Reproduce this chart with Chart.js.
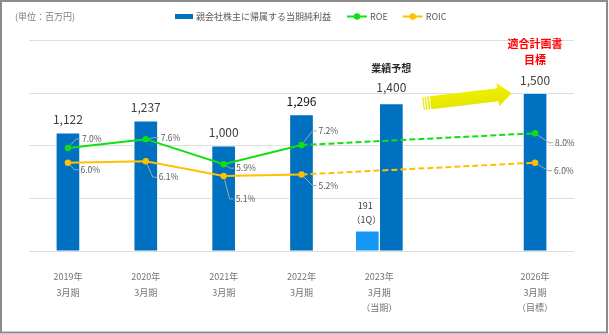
<!DOCTYPE html>
<html lang="ja">
<head>
<meta charset="utf-8">
<title>親会社株主に帰属する当期純利益・ROE・ROIC</title>
<script src="https://cdn.jsdelivr.net/npm/chart.js@4/dist/chart.umd.min.js"></script>
<style>
  html, body { margin: 0; padding: 0; background: #ffffff; }
  #wrap { width: 609px; height: 334px; }
  canvas { display: block; }
</style>
</head>
<body>
<div id="wrap"><canvas id="chart" width="609" height="334"></canvas></div>
<script>
// ---- data ----
const periods = [
  ['2019年', '3月期'],
  ['2020年', '3月期'],
  ['2021年', '3月期'],
  ['2022年', '3月期'],
  ['2023年', '3月期', '（当期）'],
  '',
  ['2026年', '3月期', '（目標）']
];
const netIncome = [1122, 1237, 1000, 1296, 1400, null, 1500];   // 百万円
const firstQuarterIncome = [null, null, null, null, 191, null, null];
const roe  = [7.0, 7.6, 5.9, 7.2, null, null, 8.0];            // %
const roic = [6.0, 6.1, 5.1, 5.2, null, null, 6.0];            // %
const incomeTicks = [0, 500, 1000, 1500, 2000];

const lastActualIndex = 3;   // 2022年3月期: last actual result, dashed afterwards
const forecastIndex = 4;     // 2023年3月期 forecast
const targetIndex = 6;       // 2026年3月期 target

// ---- styling ----
const FONT = '"Noto Sans CJK JP", "Noto Sans", sans-serif';
const BLUE = '#0070c0';
const LIGHT_BLUE = '#1597f5';
const GREEN = '#10e010';
const GOLD = '#ffc000';
const TEXT = '#595959';

// label placement for the percentage call-outs (offset of label from its point)
const pctLabelOffsets = {
  roe:  [[14, -9], [15, -1.5], [12.5, 4], [17, -14], null, null, [20, 9.5]],
  roic: [[12.5, 7], [13, 16], [12, 23], [17, 11], null, null, [19, 8]]
};

const DS_ROE = 0, DS_ROIC = 1, DS_Q1 = 2, DS_INCOME = 3;

// white page, unit note, legend and outer frame
const pageDecor = {
  id: 'pageDecor',
  beforeDraw(chart) {
    const { ctx, width, height } = chart;
    ctx.save();
    ctx.fillStyle = '#ffffff';
    ctx.fillRect(0, 0, width, height);
    ctx.restore();
  },
  afterDraw(chart) {
    const { ctx, width, height } = chart;
    const ds = chart.data.datasets;
    ctx.save();
    ctx.textBaseline = 'middle';
    ctx.textAlign = 'left';

    ctx.font = `9px ${FONT}`;
    ctx.fillStyle = '#7f7f7f';
    ctx.fillText('(単位：百万円)', 15, 16.5);

    // legend row
    const ly = 16.5;
    let x = 175;
    ctx.fillStyle = ds[DS_INCOME].backgroundColor;
    ctx.fillRect(x, ly - 2.5, 18, 5);
    x += 21;
    ctx.fillStyle = TEXT;
    ctx.fillText(ds[DS_INCOME].label, x, ly);
    x += ctx.measureText(ds[DS_INCOME].label).width + 16;
    [DS_ROE, DS_ROIC].forEach((idx) => {
      const d = ds[idx];
      ctx.strokeStyle = d.borderColor;
      ctx.lineWidth = 2;
      ctx.beginPath();
      ctx.moveTo(x, ly);
      ctx.lineTo(x + 20, ly);
      ctx.stroke();
      ctx.fillStyle = d.borderColor;
      ctx.beginPath();
      ctx.arc(x + 10, ly, 3.2, 0, Math.PI * 2);
      ctx.fill();
      x += 23;
      ctx.fillStyle = TEXT;
      ctx.fillText(d.label, x, ly);
      x += ctx.measureText(d.label).width + 15;
    });

    // frame
    ctx.strokeStyle = '#8c8c8c';
    ctx.lineWidth = 2;
    ctx.strokeRect(1, 1, width - 3, height - 2.5);
    ctx.restore();
  }
};

function drawArrow(ctx, x0, y0, x1, y1) {
  const ang = Math.atan2(y1 - y0, x1 - x0);
  const len = Math.hypot(x1 - x0, y1 - y0);
  const shaft = 6.5, head = 11.5, headLen = 14;
  ctx.save();
  ctx.translate(x0, y0);
  ctx.rotate(ang);
  const grad = ctx.createLinearGradient(0, -head, 0, head);
  grad.addColorStop(0, '#f2f200');
  grad.addColorStop(1, '#e2e200');
  ctx.fillStyle = grad;
  // striped tail
  ctx.fillRect(0, -shaft, 1.2, shaft * 2);
  ctx.fillRect(2.4, -shaft, 1.4, shaft * 2);
  ctx.fillRect(5, -shaft, 1.6, shaft * 2);
  ctx.beginPath();
  ctx.moveTo(7.8, -shaft);
  ctx.lineTo(len - headLen, -shaft);
  ctx.lineTo(len - headLen, -head);
  ctx.lineTo(len, 0);
  ctx.lineTo(len - headLen, head);
  ctx.lineTo(len - headLen, shaft);
  ctx.lineTo(7.8, shaft);
  ctx.closePath();
  ctx.fill();
  ctx.restore();
}

// value labels, percentage call-outs and headings
const annotations = {
  id: 'annotations',
  afterDatasetsDraw(chart) {
    const { ctx } = chart;
    const xs = chart.scales.x, ys = chart.scales.y;
    ctx.save();
    ctx.textAlign = 'center';
    ctx.textBaseline = 'middle';

    // net income values above the bars
    const incMeta = chart.getDatasetMeta(DS_INCOME);
    netIncome.forEach((v, i) => {
      if (v == null) return;
      const bar = incMeta.data[i];
      ctx.font = `12px ${FONT}`;
      ctx.fillStyle = i === lastActualIndex ? '#111111' : '#404040';
      ctx.fillText(v.toLocaleString('en-US'), bar.x, bar.y - (i === forecastIndex ? 16 : 13));
    });

    // first-quarter bar label
    const qMeta = chart.getDatasetMeta(DS_Q1);
    firstQuarterIncome.forEach((v, i) => {
      if (v == null) return;
      const bar = qMeta.data[i];
      ctx.font = `9px ${FONT}`;
      ctx.fillStyle = '#404040';
      ctx.fillText(v.toLocaleString('en-US'), bar.x - 2, bar.y - 25);
      ctx.fillText('（1Q）', bar.x - 1, bar.y - 11);
    });

    // percentage labels with leader lines
    ctx.textAlign = 'left';
    ctx.font = `8.5px ${FONT}`;
    [[DS_ROE, roe, pctLabelOffsets.roe], [DS_ROIC, roic, pctLabelOffsets.roic]].forEach(([idx, values, offs]) => {
      const meta = chart.getDatasetMeta(idx);
      values.forEach((v, i) => {
        if (v == null || !offs[i]) return;
        const pt = meta.data[i];
        const lx = pt.x + offs[i][0], ly = pt.y + offs[i][1];
        const ex = lx - 6;
        const a = Math.atan2(ly - pt.y, ex - pt.x);
        ctx.strokeStyle = '#a6a6a6';
        ctx.lineWidth = 1;
        ctx.beginPath();
        ctx.moveTo(pt.x + Math.cos(a) * 3.5, pt.y + Math.sin(a) * 3.5);
        ctx.lineTo(ex, ly);
        ctx.lineTo(lx - 2, ly);
        ctx.stroke();
        ctx.fillStyle = TEXT;
        ctx.fillText(v.toFixed(1) + '%', lx, ly);
      });
    });

    // headings over forecast and target bars
    ctx.textAlign = 'center';
    const fBar = incMeta.data[forecastIndex];
    ctx.font = `bold 10px ${FONT}`;
    ctx.fillStyle = '#262626';
    ctx.fillText('業績予想', fBar.x, fBar.y - 35);

    const tBar = incMeta.data[targetIndex];
    ctx.font = `bold 11px ${FONT}`;
    ctx.fillStyle = '#ff0000';
    ctx.fillText('適合計画書', tBar.x, tBar.y - 49);
    ctx.fillText('目標', tBar.x, tBar.y - 33);

    // arrow from forecast level to target level
    const xa = xs.getPixelForValue(forecastIndex), xb = xs.getPixelForValue(targetIndex);
    const span = xb - xa;
    drawArrow(ctx,
      xa + span * 0.28, ys.getPixelForValue(netIncome[forecastIndex]),
      xb - span * 0.15, ys.getPixelForValue(netIncome[targetIndex]));

    ctx.restore();
  }
};

new Chart(document.getElementById('chart'), {
  type: 'bar',
  data: {
    labels: periods,
    datasets: [
      {
        type: 'line', label: 'ROE', data: roe, yAxisID: 'y2', order: 0,
        borderColor: GREEN, backgroundColor: GREEN, borderWidth: 2,
        pointRadius: 3.2, pointHoverRadius: 3.2, pointBorderWidth: 0, pointBackgroundColor: GREEN,
        spanGaps: true, tension: 0,
        segment: { borderDash: (c) => c.p1DataIndex > lastActualIndex ? [6, 3] : undefined }
      },
      {
        type: 'line', label: 'ROIC', data: roic, yAxisID: 'y2', order: 0,
        borderColor: GOLD, backgroundColor: GOLD, borderWidth: 2,
        pointRadius: 3.2, pointHoverRadius: 3.2, pointBorderWidth: 0, pointBackgroundColor: GOLD,
        spanGaps: true, tension: 0,
        segment: { borderDash: (c) => c.p1DataIndex > lastActualIndex ? [6, 3] : undefined }
      },
      {
        label: '親会社株主に帰属する当期純利益（1Q）', data: firstQuarterIncome, order: 1,
        backgroundColor: LIGHT_BLUE
      },
      {
        label: '親会社株主に帰属する当期純利益', data: netIncome, order: 1,
        backgroundColor: BLUE
      }
    ]
  },
  options: {
    responsive: false,
    animation: false,
    devicePixelRatio: 1,
    layout: { padding: { left: 29, right: 35, top: 40.5, bottom: 0.5 } },
    plugins: { legend: { display: false }, tooltip: { enabled: false } },
    datasets: {
      bar: { barThickness: 24, skipNull: true, borderWidth: 1, borderColor: '#ffffff' }
    },
    scales: {
      x: {
        grid: { display: false, drawTicks: false },
        border: { display: false },
        ticks: {
          autoSkip: false, maxRotation: 0, padding: 18, color: '#737373',
          font: { family: FONT, size: 9, lineHeight: 1.72 }
        }
      },
      y: {
        min: incomeTicks[0],
        max: incomeTicks[incomeTicks.length - 1],
        ticks: { display: false, stepSize: incomeTicks[1] - incomeTicks[0] },
        grid: { color: '#dedede', lineWidth: 1, drawTicks: false },
        border: { display: false }
      },
      y2: { display: false, position: 'right', min: 0, max: 14.3 }
    }
  },
  plugins: [pageDecor, annotations]
});
</script>
</body>
</html>
